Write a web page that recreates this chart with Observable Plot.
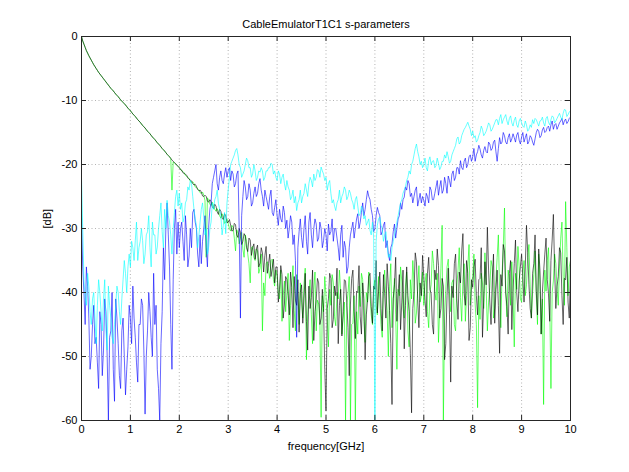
<!DOCTYPE html>
<html><head><meta charset="utf-8">
<script src="https://cdn.jsdelivr.net/npm/d3@7"></script>
<script src="https://cdn.jsdelivr.net/npm/@observablehq/plot@0.6"></script>
<style>body{margin:0;background:#fff} svg{display:block}</style>
</head><body><div id="chart"></div>
<script>
const title = "CableEmulatorT1C1 s-parameters";
const xLabel = "frequency[GHz]";
const yLabel = "[dB]";
const xTicks = [0,1,2,3,4,5,6,7,8,9,10];
const yTicks = [0,-10,-20,-30,-40,-50,-60];
const freqStep = 0.025; // GHz between samples, 0..10 GHz

// blue trace (one row per GHz)
const sBlue = [
-28,-36,-40,-45,-36,-39,-44,-52,-50,-45,-42,-48,-47,-51,-55,-43,-45,-53,-49,-41,-43,-50,-60,-47,-46,-40,-52,-57,-41,-44,-48,-53,-55,-46,-44,-50,-56,-52,-48.5,-42,
-44,-48,-39,-44,-47,-51,-54,-45,-45,-41,-42,-49,-59,-50,-46,-40,-43,-47,-50,-37,-45,-42,-52,-55,-60,-48,-43,-33,-38,-30,-26,-31,-36,-45,-52,-38,-30,-27,-34,-29,
-33,-30,-29,-32,-35,-28,-31,-36,-34.3,-30,-33,-27.5,-27,-29,-30,-34,-36,-31,-35.5,-32,-30,-28,-33,-36,-29.8,-27,-26,-23,-22,-21,-20,-23,-24,-22,-21,-22.5,-23,-21.5,-20.5,-22,
-21,-20.5,-22.5,-21,-21.5,-23.5,-23,-21.5,-21,-30,-44,-28,-25,-22.5,-23.5,-25.5,-25,-23,-24,-26.5,-26,-24.5,-23.5,-25,-24.5,-23,-22.2,-24,-25,-26.5,-24,-25,-26,-27,-25,-24,-27.5,-28,-26.7,-25.5,
-28,-29.5,-27,-28.5,-29,-26.5,-27.5,-30,-28.7,-31.5,-30,-28,-29,-32.5,-31,-35,-47,-33,-30.5,-28.5,-31.4,-33,-30,-28,-32,-34,-29,-27.5,-31,-33,-30,-28.5,-29.3,-32,-31.5,-29,-30,-33,-31.9,-30,
-31,-33.5,-29.3,-31,-30.5,-28.5,-32,-30,-30,-31.5,-33,-35,-31,-29.5,-34.5,-32,-33,-37,-36,-33,-31,-30,-29,-31.5,-30,-28.5,-27.7,-30,-29,-27.5,-26,-28,-27,-25.5,-24.1,-25,-25.5,-27,-28,-30.5,
-30,-28,-26.7,-27.5,-28,-31,-30.5,-29.5,-29,-33,-31.9,-34,-35,-33,-32.4,-30.5,-29.3,-31.5,-30,-28.5,-28,-26,-27,-25.5,-25.1,-23.5,-24,-22.5,-23,-25,-24.5,-26,-25,-24,-23.5,-26.5,-25.5,-24.5,-26,-25,
-25.6,-26.5,-24.5,-25,-26,-23.5,-24,-25.5,-25.5,-24.5,-23.5,-22.5,-24.8,-23.5,-22.5,-24.5,-24,-22,-23,-24.5,-21.8,-22.5,-23.5,-21.5,-21,-22.5,-22,-20.5,-20.5,-21.5,-19.4,-20.5,-20.8,-19.5,-19,-20.5,-20,-18.8,-18.5,-19.5,
-18.8,-17.5,-19.5,-18.5,-18,-17,-17.6,-18.5,-19,-17.8,-17.2,-18,-18.2,-16.5,-16.8,-17.8,-17.5,-16.5,-16.2,-18,-19.5,-17.5,-15.8,-16.8,-16.5,-15,-15.5,-16.5,-16.8,-15.8,-15.2,-16.5,-16,-15.2,-15.8,-16.5,-15.4,-15,-16.2,-16.8,
-15.7,-15,-16.5,-15.8,-15.2,-16.8,-16.4,-15.5,-15.8,-16.5,-17,-16,-15,-14.5,-14.8,-15.8,-15.5,-14.6,-14.2,-15,-14.8,-14.2,-14,-14.8,-13.8,-13.2,-14.5,-13.8,-13.6,-14.5,-14,-13.5,-13.2,-12.8,-13.8,-13.2,-12.9,-13.6,-13.3,-12.8,-12.6
];
// cyan trace
const sCyan = [
-22,-30,-38,-41,-42,-37,-39,-43,-45,-41,-40,-44,-48,-42,-38,-40,-43,-46,-41,-38,-46,-49,-39,-42,-44,-47,-48,-45,-42,-39,-40,-43,-45,-41,-38,-35,-37,-40,-36,-34,
-36,-32,-33,-35,-31.9,-29,-35,-33,-32,-30,-31.9,-35.5,-34,-31,-30.5,-28,-33,-36,-29,-31,-31,-34,-32.9,-30,-28,-26,-30.5,-33,-27,-30,-25.6,-28,-29,-31,-34,-30,-27.5,-25,-24,-26.5,
-24.5,-27,-26,-29,-28.2,-26,-25.5,-23.5,-24,-22.5,-23,-25,-27,-28.5,-29.5,-33,-31.2,-29,-27,-26,-28.2,-31,-30,-34,-32.9,-30,-29,-26,-27,-25.5,-25,-24,-26.1,-27,-28,-31,-29.5,-27.5,-30.8,-26,
-24,-22,-20,-19.5,-19,-18.5,-17.8,-17.5,-18.5,-20,-20.5,-22,-21.5,-21,-20,-19,-19.4,-20.5,-20.5,-22,-21.5,-20,-21,-22.5,-22,-21,-21.2,-20.5,-21,-22.5,-22,-21,-21,-20.5,-20.5,-19.8,-20,-21.5,-21,-22,
-22.5,-21,-21.5,-23,-22,-21.5,-23,-24,-22.5,-23.5,-24,-25.5,-25,-24,-26,-25,-27.2,-26,-25.5,-24,-26,-25,-24.5,-23,-24,-25,-23,-22,-22.5,-23.5,-21.5,-22.5,-22,-20.8,-21,-22,-20.4,-21,-21.5,-22.5,
-22,-24,-23,-22.5,-24.5,-26,-25.5,-26.5,-27.2,-26,-25.5,-24,-26,-25,-24.5,-23.5,-24,-25.5,-25,-24,-24.5,-25.5,-26,-27,-25.5,-25,-26.5,-28,-27.7,-26.5,-27,-28.5,-28,-29.5,-29,-28.5,-30.3,-31,-29,-31.5,
-60,-32,-29.5,-28.5,-28.2,-29.5,-30,-32,-31,-30.5,-32.5,-34.5,-34,-35,-33,-32,-31,-30,-29,-28,-27,-26,-25.5,-24.5,-24,-23.5,-22.5,-22,-21,-21.5,-20,-19.5,-18.5,-17.5,-16.8,-18,-18.8,-20,-19.5,-20.5,
-19.9,-19,-20.5,-21,-19.4,-18.8,-20,-19.5,-19.4,-20.5,-20.2,-19,-19.8,-20.8,-20.4,-19.5,-19.5,-18.5,-19,-18,-18.8,-19.8,-19.5,-18.5,-18,-17.5,-17,-16,-15.7,-16.8,-16.5,-15.5,-15,-14.5,-14.2,-13.8,-13.4,-14,-14.5,-15.5,
-14.8,-15.8,-15.5,-16.5,-16.2,-15.5,-15,-14,-14.5,-15.5,-15.2,-14.8,-14.2,-13.5,-13.8,-14.8,-14.5,-14,-13.5,-13,-13,-13.8,-12.8,-12.2,-13.6,-13,-12.6,-12.2,-13.2,-13.8,-12.8,-12.4,-13.5,-14,-13.1,-12.6,-13.8,-14.2,-13.2,-12.8,
-13.5,-14,-14.2,-13.2,-13.8,-14.8,-14.5,-13.8,-14.2,-13,-13.6,-12.8,-13,-13.5,-14,-13.2,-13.1,-12.6,-13.5,-14,-12.8,-12.5,-13.4,-13.8,-13,-12.4,-12.6,-13.5,-13.2,-12.8,-12.4,-12,-12.6,-13,-12,-11.4,-11.5,-12.5,-12.2,-11.8,-11.6
];
// black trace
const sBlack = [
0,-0.7,-1.2,-1.7,-2.2,-2.6,-3.0,-3.35,-3.7,-4.05,-4.4,-4.7,-5.0,-5.3,-5.6,-5.85,-6.1,-6.35,-6.6,-6.85,-7.1,-7.35,-7.6,-7.85,-8.1,-8.3,-8.5,-8.75,-9.0,-9.2,-9.4,-9.65,-9.9,-10.1,-10.3,-10.5,-10.7,-10.95,-11.2,-11.4,
-11.6,-11.85,-12.1,-12.3,-12.5,-12.75,-13.0,-13.2,-13.4,-13.65,-13.9,-14.1,-14.3,-14.55,-14.8,-15.0,-15.2,-15.45,-15.7,-15.9,-16.1,-16.35,-16.6,-16.8,-17.0,-17.25,-17.5,-17.7,-17.9,-18.15,-18.4,-18.6,-18.8,-19.05,-19.3,-19.5,-19.7,-19.9,-20.1,-20.3,
-20.5,-20.8,-20.9,-21.3,-21.4,-21.5,-21.7,-22.1,-22.3,-22.4,-22.6,-23.0,-23.2,-23.1,-23.4,-23.9,-24.1,-24.0,-24.3,-24.9,-25.0,-24.8,-25.0,-25.7,-25.9,-25.5,-25.8,-26.6,-26.9,-26.2,-26.5,-27.4,-27.8,-27.0,-27.3,-28.3,-28.6,-27.7,-28.0,-29.1,
-29.0,-28.6,-29.5,-30.4,-30.3,-29.2,-29.4,-31.0,-31.4,-30.0,-30.6,-32.5,-32.0,-30.8,-31.2,-33.0,-33.6,-31.5,-31.8,-34.2,-33.0,-32.4,-34.8,-33.2,-32.6,-36.0,-35.4,-33.0,-33.8,-36.8,-34.2,-32.8,-37.0,-35.5,-34.0,-37.5,-36.2,-34.8,-38.5,-36.0,
-36.0,-41.5,-39.5,-35.8,-37.2,-44.0,-41.8,-37.5,-38.0,-40.5,-43.5,-36.8,-39.2,-45.5,-37.5,-41.2,-42.0,-38.0,-46.2,-40.0,-38.8,-44.8,-41.0,-37.0,-44.5,-49.0,-39.0,-42.5,-40.8,-36.5,-47.5,-43.0,-41.2,-37.8,-38.5,-45.0,-44.0,-39.5,-42.5,-52.0,
-58.5,-42.5,-41.0,-37.0,-37.8,-45.5,-44.2,-39.0,-40.5,-36.2,-48.0,-42.0,-39.5,-46.8,-43.0,-38.0,-38.2,-41.5,-45.5,-53.0,-41.8,-37.8,-36.5,-43.0,-47.2,-39.8,-40.0,-35.8,-43.8,-46.5,-38.5,-41.0,-50.5,-43.5,-41.2,-37.5,-37.0,-42.2,-44.8,-39.0,
-39.5,-35.0,-43.2,-39.8,-36.8,-42.5,-46.0,-37.2,-40.2,-44.0,-35.5,-39.0,-42.8,-48.0,-57.5,-41.0,-38.8,-34.5,-44.5,-40.0,-37.2,-45.8,-41.5,-36.5,-48.8,-42.0,-36.0,-40.5,-43.0,-49.5,-58.8,-42.5,-39.8,-33.8,-35.2,-41.0,-45.5,-38.5,-40.5,-34.2,
-37.5,-41.2,-43.8,-37.0,-34.5,-39.5,-40.2,-45.0,-46.5,-36.5,-38.0,-33.2,-35.8,-44.0,-42.5,-37.8,-39.0,-50.5,-48.0,-40.5,-36.2,-43.5,-54.0,-39.0,-40.8,-35.5,-34.0,-41.0,-44.2,-36.8,-38.5,-33.5,-30.8,-40.2,-42.0,-35.0,-37.0,-47.5,-45.5,-38.0,
-39.2,-36.0,-34.8,-40.5,-43.5,-38.0,-37.8,-33.0,-47.0,-41.5,-35.2,-38.8,-29.8,-36.5,-41.5,-45.0,-38.2,-34.0,-44.8,-39.5,-36.5,-42.0,-49.5,-37.2,-39.0,-32.5,-33.5,-40.0,-42.2,-46.5,-37.0,-35.0,-45.8,-39.8,-35.5,-31.8,-40.0,-43.0,-38.2,-36.0,
-34.0,-37.5,-41.5,-36.0,-29.5,-33.8,-38.8,-42.5,-44.0,-37.0,-35.5,-31.0,-39.8,-43.5,-33.2,-36.5,-46.5,-40.0,-36.8,-34.0,-31.5,-38.0,-40.2,-44.5,-35.0,-31.8,-27.8,-36.2,-42.5,-39.0,-37.5,-33.0,-33.8,-40.5,-45.0,-37.8,-38.0,-34.5,-41.5,-44.0,-36.5
];
// green trace
const sGreen = [
0,-0.7,-1.2,-1.7,-2.2,-2.6,-3.0,-3.35,-3.7,-4.05,-4.4,-4.7,-5.0,-5.3,-5.6,-5.85,-6.1,-6.35,-6.6,-6.85,-7.1,-7.35,-7.6,-7.85,-8.1,-8.3,-8.5,-8.75,-9.0,-9.2,-9.4,-9.65,-9.9,-10.1,-10.3,-10.5,-10.7,-10.95,-11.2,-11.4,
-11.6,-11.85,-12.1,-12.3,-12.5,-12.75,-13.0,-13.2,-13.4,-13.65,-13.9,-14.1,-14.3,-14.55,-14.8,-15.0,-15.2,-15.45,-15.7,-15.9,-16.1,-16.35,-16.6,-16.8,-17.0,-17.25,-17.5,-17.7,-17.9,-18.15,-18.4,-18.6,-18.8,-19.05,-24.0,-19.6,-19.7,-19.9,-20.1,-20.3,
-20.5,-20.7,-21.0,-21.1,-21.3,-21.7,-21.8,-22.0,-22.2,-22.6,-22.8,-22.7,-23.0,-23.5,-23.6,-23.8,-24.0,-24.4,-24.5,-24.3,-24.8,-25.6,-34.5,-25.2,-25.6,-26.2,-26.4,-25.9,-26.5,-27.0,-27.3,-26.9,-27.4,-28.0,-28.4,-27.7,-28.2,-29.2,-29.0,-28.5,
-29.2,-30.0,-30.4,-29.5,-29.8,-31.5,-33.5,-30.2,-30.8,-32.4,-31.5,-30.6,-33.2,-34.5,-31.0,-32.0,-34.0,-35.5,-38.5,-33.0,-32.8,-34.5,-35.0,-33.2,-33.5,-37.0,-36.2,-34.0,-46.0,-38.5,-40.5,-35.5,-35.2,-36.5,-37.8,-35.0,-34.8,-38.0,-39.0,-36.5,
-37.5,-40.0,-41.0,-36.5,-44.5,-40.5,-38.2,-43.0,-40.0,-37.0,-47.5,-42.0,-39.0,-35.8,-42.8,-46.0,-37.2,-40.8,-45.0,-38.5,-41.5,-44.0,-38.8,-36.2,-50.5,-43.5,-40.2,-38.0,-43.5,-48.0,-39.5,-36.8,-46.0,-41.2,-41.8,-44.5,-59.5,-40.5,-43.0,-37.5,
-40.5,-44.0,-48.5,-39.5,-42.0,-37.2,-38.5,-43.8,-45.2,-40.0,-41.0,-36.5,-39.8,-46.5,-44.0,-41.5,-60.0,-42.0,-40.0,-37.5,-60.0,-45.0,-44.8,-40.5,-60.0,-43.0,-46.5,-39.0,-42.2,-37.0,-38.0,-44.5,-47.8,-40.0,-41.5,-36.8,-40.2,-43.5,-45.0,-39.2,
-38.0,-42.0,-43.5,-37.5,-41.2,-45.0,-47.0,-39.0,-36.5,-40.5,-42.8,-50.0,-39.0,-35.5,-45.5,-41.0,-37.8,-43.5,-52.0,-39.5,-40.5,-36.0,-38.2,-42.5,-44.0,-39.0,-36.8,-46.0,-48.5,-38.0,-41.0,-35.0,-38.5,-44.8,-43.2,-39.5,-35.8,-41.5,-40.5,-36.8,
-42.0,-38.5,-37.0,-43.0,-45.5,-40.0,-38.8,-33.5,-35.5,-39.8,-41.2,-37.0,-47.8,-42.5,-36.2,-29.5,-60.0,-44.0,-39.5,-36.0,-34.8,-40.0,-43.0,-38.5,-38.0,-45.0,-46.0,-39.0,-36.5,-33.0,-40.8,-44.5,-38.0,-35.5,-44.5,-40.5,-36.0,-32.5,-42.0,-38.8,
-37.5,-34.0,-41.8,-45.0,-58.0,-40.5,-44.2,-37.0,-38.5,-42.5,-33.8,-39.0,-46.0,-41.5,-39.2,-35.0,-36.0,-44.0,-42.5,-38.0,-34.5,-31.0,-40.0,-45.5,-37.2,-33.0,-26.8,-39.5,-43.8,-36.5,-38.0,-42.0,-35.2,-40.5,-48.5,-37.0,-39.5,-32.8,-36.0,-41.0,
-41.5,-37.0,-35.0,-40.5,-38.8,-34.5,-32.5,-39.0,-44.0,-40.0,-37.2,-33.5,-40.5,-45.0,-34.0,-38.0,-46.5,-41.0,-57.5,-36.5,-39.8,-35.0,-33.0,-41.5,-55.0,-40.0,-38.2,-34.0,-35.5,-39.5,-42.0,-36.0,-31.5,-29.0,-37.5,-42.0,-25.8,-33.0,-40.5,-36.0,-35.0
];

const seriesList = [
  {name: "green", color: "#00ff00", values: sGreen},
  {name: "black", color: "#000000", values: sBlack},
  {name: "blue",  color: "#0000ff", values: sBlue},
  {name: "cyan",  color: "#00ffff", values: sCyan}
];
const rows = seriesList.map(s => s.values.map((v, i) => ({f: i * freqStep, db: v})));

const W = 629, H = 472, mL = 81, mR = 59, mT = 36, mB = 52;
const pw = W - mL - mR, ph = H - mT - mB;
const axisColor = "#262626";
const gridStyle = {stroke: "#a0a0a0", strokeOpacity: 1, strokeDasharray: "1,2.5", strokeWidth: 0.8};

const chart = Plot.plot({
  width: W, height: H,
  marginLeft: mL, marginRight: mR, marginTop: mT, marginBottom: mB,
  style: {fontFamily: "'Liberation Sans', Arial, sans-serif", fontSize: "11px", background: "#fff", color: "#000"},
  x: {domain: [0, 10]},
  y: {domain: [-60, 0]},
  marks: [
    Plot.gridX(xTicks, gridStyle),
    Plot.gridY(yTicks, gridStyle),
    ...rows.map((r, k) => Plot.line(r, {x: "f", y: "db", stroke: seriesList[k].color, strokeWidth: 0.6, clip: true})),
    Plot.frame({stroke: axisColor, strokeWidth: 1}),
    Plot.gridX(xTicks, {stroke: axisColor, strokeOpacity: 1, insetTop: ph - 5}),
    Plot.gridX(xTicks, {stroke: axisColor, strokeOpacity: 1, insetBottom: ph - 5}),
    Plot.gridY(yTicks, {stroke: axisColor, strokeOpacity: 1, insetRight: pw - 5}),
    Plot.gridY(yTicks, {stroke: axisColor, strokeOpacity: 1, insetLeft: pw - 5}),
    Plot.axisX(xTicks, {tickSize: 0, tickPadding: 5, label: null, tickFormat: d => String(d), fontSize: 11}),
    Plot.axisY(yTicks, {tickSize: 0, tickPadding: 4, label: null, tickFormat: d => String(d), fontSize: 11}),
    Plot.text([xLabel], {frameAnchor: "bottom", dy: 29, fontSize: 11, fill: "#000"}),
    Plot.text([yLabel], {frameAnchor: "left", dx: -34, rotate: -90, fontSize: 11, fill: "#000"}),
    Plot.text([title], {frameAnchor: "top", dy: -16, fontSize: 11, fill: "#000"})
  ]
});
document.getElementById("chart").appendChild(chart);
</script>
</body></html>
